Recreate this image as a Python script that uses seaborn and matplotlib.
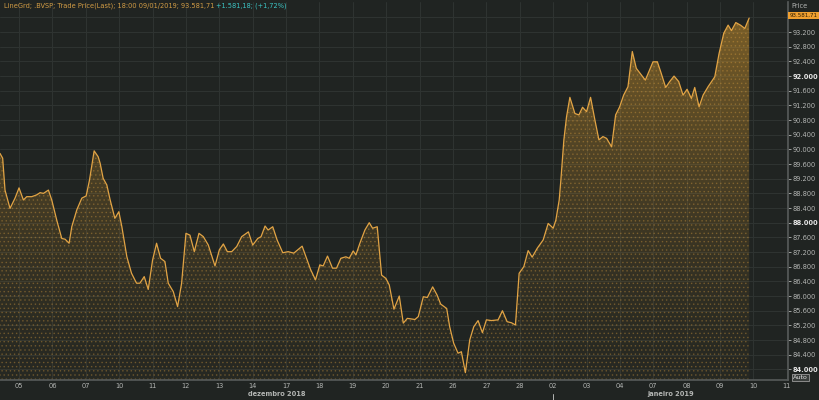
import numpy as np
import pandas as pd
import matplotlib
matplotlib.use("Agg")
import matplotlib.pyplot as plt
import seaborn as sns

# ================================
# Data (.BVSP intraday, Dec 2018 - Jan 2019)
# session_pos: trading-session index, 0 = "05" dez
# ================================
session_pos = [
    -0.57, -0.49, -0.42, -0.27, -0.12, 0.00, 0.13, 0.23, 0.38, 0.53,
    0.63, 0.73, 0.88, 0.98, 1.13, 1.28, 1.38, 1.50, 1.58, 1.73,
    1.88, 2.01, 2.11, 2.25, 2.37, 2.43, 2.52, 2.63, 2.73, 2.87,
    2.99, 3.08, 3.23, 3.37, 3.52, 3.62, 3.75, 3.87, 4.00, 4.12,
    4.24, 4.37, 4.47, 4.62, 4.75, 4.87, 5.00, 5.12, 5.25, 5.39,
    5.52, 5.67, 5.87, 6.00, 6.12, 6.24, 6.37, 6.52, 6.67, 6.87,
    7.00, 7.15, 7.25, 7.37, 7.46, 7.60, 7.73, 7.90, 8.06, 8.23,
    8.36, 8.48, 8.61, 8.73, 8.88, 9.01, 9.11, 9.24, 9.39, 9.51,
    9.64, 9.79, 9.89, 10.01, 10.09, 10.21, 10.36, 10.49, 10.59, 10.73,
    10.86, 10.99, 11.09, 11.23, 11.39, 11.51, 11.63, 11.86, 11.96, 12.11,
    12.23, 12.39, 12.52, 12.63, 12.81, 12.90, 13.02, 13.15, 13.25, 13.37,
    13.50, 13.62, 13.75, 13.88, 14.00, 14.15, 14.35, 14.48, 14.62, 14.75,
    14.87, 14.98, 15.12, 15.25, 15.37, 15.52, 15.70, 15.85, 16.00, 16.08,
    16.18, 16.23, 16.32, 16.40, 16.50, 16.65, 16.77, 16.88, 17.00, 17.12,
    17.25, 17.37, 17.49, 17.60, 17.75, 17.87, 17.99, 18.11, 18.24, 18.37,
    18.49, 18.64, 18.76, 18.89, 18.99, 19.12, 19.22, 19.37, 19.49, 19.62,
    19.76, 19.89, 20.01, 20.14, 20.24, 20.37, 20.49, 20.64, 20.84, 20.97,
    21.11, 21.24, 21.34, 21.47, 21.61, 21.74, 21.87,
]

price = [
    89890, 89760, 88890, 88390, 88670, 88950, 88620, 88710, 88710, 88760,
    88820, 88800, 88890, 88620, 88070, 87570, 87550, 87440, 87890, 88350,
    88670, 88730, 89160, 89960, 89800, 89620, 89210, 89030, 88620, 88120,
    88300, 87890, 87070, 86620, 86350, 86350, 86530, 86180, 86980, 87440,
    87030, 86940, 86350, 86120, 85710, 86350, 87710, 87660, 87210, 87710,
    87620, 87390, 86820, 87260, 87420, 87210, 87210, 87350, 87620, 87750,
    87390, 87570, 87620, 87910, 87800, 87890, 87530, 87180, 87210, 87170,
    87270, 87360, 87030, 86730, 86440, 86850, 86820, 87090, 86760, 86760,
    87030, 87070, 87030, 87230, 87120, 87440, 87800, 88000, 87850, 87890,
    86570, 86480, 86300, 85640, 86000, 85260, 85390, 85360, 85440, 85980,
    85960, 86250, 86030, 85780, 85660, 85160, 84710, 84440, 84480, 83910,
    84800, 85160, 85330, 85000, 85350, 85330, 85350, 85600, 85300, 85270,
    85210, 86620, 86800, 87240, 87060, 87300, 87530, 87980, 87850, 88070,
    88620, 89160, 90260, 90890, 91420, 90980, 90940, 91150, 91030, 91420,
    90800, 90260, 90350, 90300, 90070, 90940, 91160, 91480, 91710, 92670,
    92210, 92030, 91890, 92170, 92390, 92390, 92120, 91690, 91850, 92000,
    91850, 91480, 91640, 91390, 91690, 91160, 91480, 91710, 91980, 92620,
    93170, 93390, 93240, 93460, 93390, 93300, 93582,
]
assert len(session_pos) == len(price)

day_labels = ["05", "06", "07", "10", "11", "12", "13", "14", "17", "18", "19", "20",
              "21", "26", "27", "28", "02", "03", "04", "07", "08", "09", "10", "11"]
month_labels = ["dezembro 2018", "janeiro 2019"]
price_ticks = list(range(84000, 93200 + 1, 400))
bold_ticks = [84000, 88000, 92000]

last_price = "93.581,71"
header_main = "LineGrd; .BVSP; Trade Price(Last); 18:00 09/01/2019; 93.581,71"
header_change = "+1.581,18; (+1,72%)"

df = pd.DataFrame({"pos": session_pos, "price": price})

# ================================
# Style
# ================================
BG = "#202422"
GRID = "#2f3432"
LINE = "#e2a445"
TXT = "#b3b5b3"

sns.set_theme(style="dark", rc={
    "axes.facecolor": BG,
    "figure.facecolor": BG,
    "axes.edgecolor": "#4a4e4c",
    "hatch.linewidth": 0.6,
})
plt.rcParams["font.family"] = ["DejaVu Sans"]

fig = plt.figure(figsize=(8.19, 4.00), dpi=100)
ax = fig.add_axes([0.0, 0.05, 0.962, 0.945])

xmin, xmax = -0.57, 23.03
ymin, ymax = 83709, 94021

# gradient fill under the line, clipped to the area
fill = ax.fill_between(df["pos"], df["price"], ymin, facecolor="none", edgecolor="none")
grad = np.linspace(0, 1, 256)
rgba = np.zeros((256, 1, 4))
rgba[:, 0, 0] = 0.80
rgba[:, 0, 1] = 0.58
rgba[:, 0, 2] = 0.18
rgba[:, 0, 3] = 0.04 + 0.52 * grad ** 1.5
img = ax.imshow(rgba, origin="lower", aspect="auto",
                extent=[xmin, xmax, ymin, ymax], zorder=1, interpolation="bilinear")
img.set_clip_path(fill.get_paths()[0], transform=ax.transData)

# dotted texture
ax.fill_between(df["pos"], df["price"], ymin, facecolor="none",
                edgecolor=(0.85, 0.62, 0.25, 0.30), hatch="....", linewidth=0, zorder=2)

sns.lineplot(data=df, x="pos", y="price", ax=ax, color=LINE, linewidth=0.9, zorder=4)

ax.set_xlim(xmin, xmax)
ax.set_ylim(ymin, ymax)
ax.axhline(93600, color=GRID, linewidth=0.7, zorder=0)

# grid
ax.set_xticks(range(len(day_labels)))
ax.set_xticklabels(day_labels)
ax.set_yticks(price_ticks)
ax.set_yticklabels([f"{v:,}".replace(",", ".") for v in price_ticks])
ax.grid(True, color=GRID, linewidth=0.7, zorder=0)
ax.set_axisbelow(True)

ax.yaxis.tick_right()
ax.tick_params(axis="y", colors=TXT, labelsize=4.8, length=2.5, width=0.6, pad=1.0, direction="out")
ax.tick_params(axis="x", colors=TXT, labelsize=4.8, length=0, pad=2)
for lbl in ax.get_yticklabels():
    lbl.set_color(TXT)
for lbl, v in zip(ax.get_yticklabels(), price_ticks):
    if v in bold_ticks:
        lbl.set_fontweight("bold")
        lbl.set_color("#e6e6e6")
for lbl in ax.get_xticklabels():
    lbl.set_color(TXT)
ax.set_xlabel("")
ax.set_ylabel("")
for s in ["left", "top"]:
    ax.spines[s].set_visible(False)
ax.spines["right"].set_color("#555958")
ax.spines["bottom"].set_color("#555958")

# month labels and year marker
fig.text(277 / 819, 1 - 394 / 400, month_labels[0], color=TXT, fontsize=4.8,
         fontweight="bold", ha="center", va="center")
fig.text(671 / 819, 1 - 394 / 400, month_labels[1], color=TXT, fontsize=4.8,
         fontweight="bold", ha="center", va="center")
ax.plot([16, 16], [-0.036, -0.052], transform=ax.get_xaxis_transform(),
        color=TXT, linewidth=0.7, clip_on=False)

# header
t1 = fig.text(4 / 819, 1 - 6 / 400, header_main + " ", color="#d29c45",
              fontsize=4.8, ha="left", va="center")
fig.canvas.draw()
bb = t1.get_window_extent()
fig.text(bb.x1 / fig.bbox.width, 1 - 6 / 400, header_change, color="#3cc4c4",
         fontsize=4.8, ha="left", va="center")

# right side: price label, last-price box, Auto button
fig.text(791 / 819, 1 - 6 / 400, "Price", color=TXT, fontsize=4.8, ha="left", va="center")
fig.text(789.5 / 819, 1 - 15.5 / 400, last_price, color="#2a1a00", fontsize=4.0,
         ha="left", va="center",
         bbox=dict(boxstyle="square,pad=0.25", facecolor="#f0a030", edgecolor="none"))
fig.text(793 / 819, 1 - 377.5 / 400, "Auto", color="#e0e0e0", fontsize=4.6,
         ha="left", va="center",
         bbox=dict(boxstyle="square,pad=0.1", facecolor="#3a3e3c", edgecolor="#9a9a9a",
                   linewidth=0.6))

fig.savefig("out.png", dpi=100, facecolor=BG)
